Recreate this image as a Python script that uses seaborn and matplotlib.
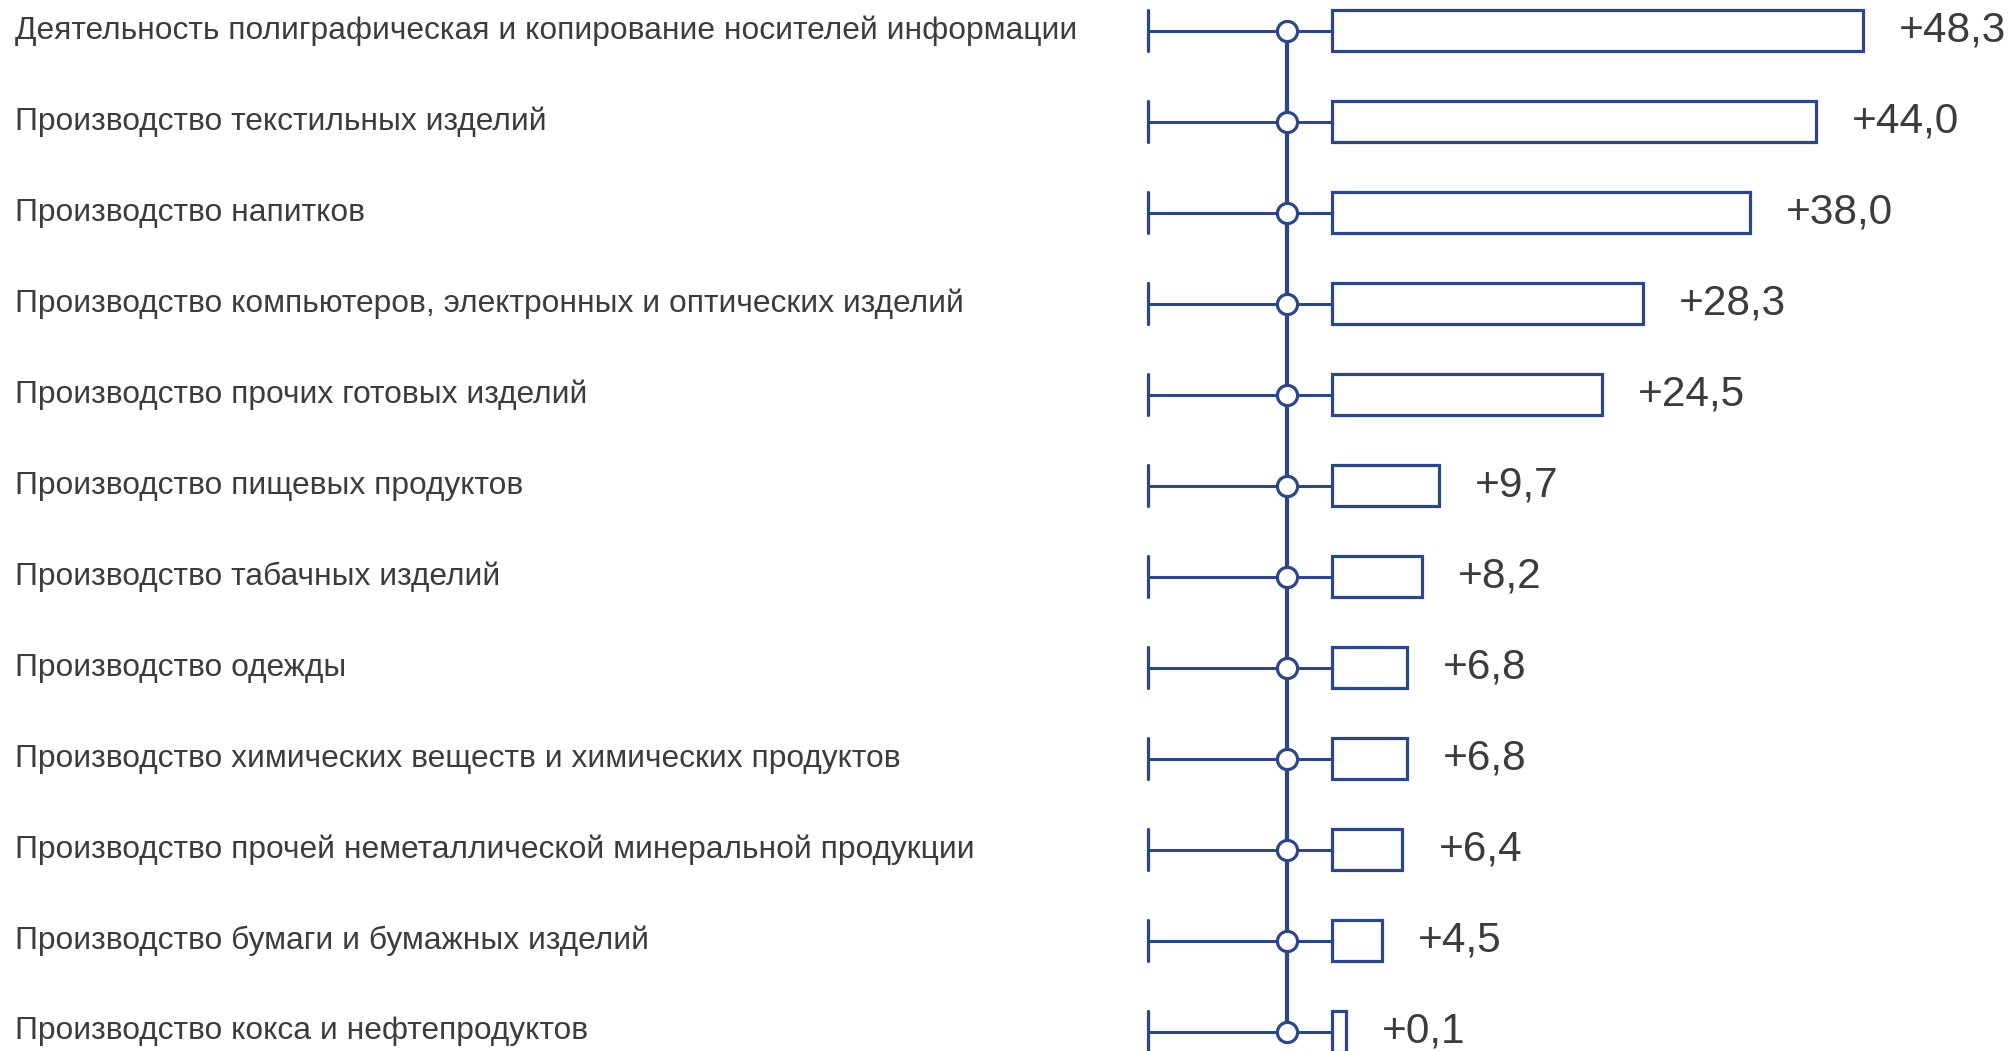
import matplotlib
matplotlib.use("Agg")
import matplotlib.pyplot as plt
import seaborn as sns
import pandas as pd
import numpy as np

categories = [
    "Деятельность полиграфическая и копирование носителей информации",
    "Производство текстильных изделий",
    "Производство напитков",
    "Производство компьютеров, электронных и оптических изделий",
    "Производство прочих готовых изделий",
    "Производство пищевых продуктов",
    "Производство табачных изделий",
    "Производство одежды",
    "Производство химических веществ и химических продуктов",
    "Производство прочей неметаллической минеральной продукции",
    "Производство бумаги и бумажных изделий",
    "Производство кокса и нефтепродуктов",
]
values = [48.3, 44.0, 38.0, 28.3, 24.5, 9.7, 8.2, 6.8, 6.8, 6.4, 4.5, 0.1]
value_labels = ["+48,3", "+44,0", "+38,0", "+28,3", "+24,5", "+9,7", "+8,2",
                "+6,8", "+6,8", "+6,4", "+4,5", "+0,1"]

sns.set_theme(style="white")
plt.rcParams["font.family"] = ["Liberation Sans", "DejaVu Sans"]

NAVY = "#2D4686"
TEXT = "#3C3C3C"

W, H = 2011, 1051
fig = plt.figure(figsize=(W / 100, H / 100), dpi=100)
ax = fig.add_axes([0, 0, 1, 1])

px_per_unit = 11.0
x0_px = 1332
xmin = -x0_px / px_per_unit
xmax = (W - x0_px) / px_per_unit
row0_px, row_step = 30.5, 91
ymin = -row0_px / row_step
ymax = (H - row0_px) / row_step

shown = [max(v, 1.3) for v in values]
df = pd.DataFrame({"cat": categories, "val": shown})
sns.barplot(data=df, x="val", y="cat", orient="h", width=0.46, fill=False,
            edgecolor=NAVY, linewidth=2.3, ax=ax, order=categories)
for p in ax.patches:
    p.set_facecolor("white")
    p.set_edgecolor(NAVY)
    p.set_zorder(3)

n = len(categories)
ys = np.arange(n)
tick_x = (1148 - x0_px) / px_per_unit
circ_x = (1287 - x0_px) / px_per_unit
half = 0.23

# vertical spine
ax.plot([circ_x, circ_x], [0, n - 1], color=NAVY, lw=3.0, zorder=2, solid_capstyle="butt")
for y in ys:
    ax.plot([tick_x, 0], [y, y], color=NAVY, lw=2.2, zorder=2)
    ax.plot([tick_x, tick_x], [y - half, y + half], color=NAVY, lw=2.3, zorder=2)
ax.scatter([circ_x] * n, ys, s=14.5 ** 2, facecolor="white", edgecolor=NAVY,
           linewidth=2.3, zorder=4)

for y, v, lab in zip(ys, shown, value_labels):
    ax.text(v + 36 / px_per_unit, y, lab, va="center", ha="left",
            fontsize=30.5, color=TEXT, zorder=5)

for y, c in zip(ys, categories):
    ax.text(15 / W, y, c, transform=ax.get_yaxis_transform(),
            va="center", ha="left", fontsize=22.9, color=TEXT)

ax.set_xlim(xmin, xmax)
ax.set_ylim(ymax, ymin)
ax.set_axis_off()

fig.savefig("out.png", dpi=100)
